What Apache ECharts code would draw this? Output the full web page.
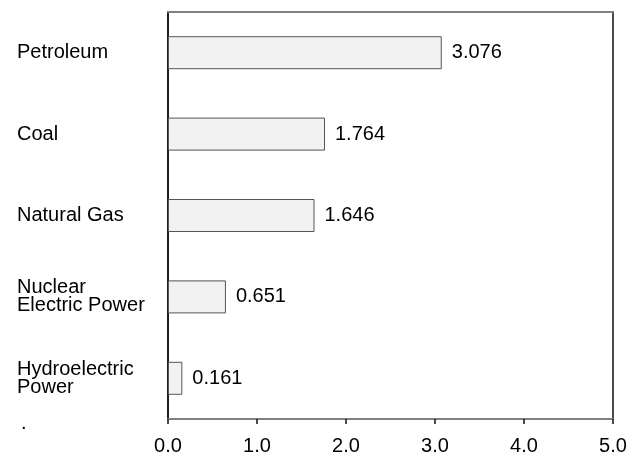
<!DOCTYPE html>
<html>
<head>
<meta charset="utf-8">
<script src="https://cdn.jsdelivr.net/npm/echarts@6/dist/echarts.min.js"></script>
<style>html,body{margin:0;padding:0;background:#fff;}#c{width:644px;height:458px;}</style>
</head>
<body>
<div id="c"></div>
<script>
var categories = ['Petroleum', 'Coal', 'Natural Gas', 'Nuclear\nElectric Power', 'Hydroelectric\nPower'];
var values = [3.076, 1.764, 1.646, 0.651, 0.161];
var xTicks = [0, 1, 2, 3, 4, 5];

var chart = echarts.init(document.getElementById('c'));
var font = 'Liberation Sans, Arial, Helvetica, sans-serif';
var fs = 20;
chart.setOption({
  animation: false,
  backgroundColor: '#fff',
  title: { text: '.', left: 16, top: 408, textStyle: { fontSize: fs, fontWeight: 'normal', color: '#000', fontFamily: font } },
  grid: { left: 168, right: 31, top: 12, bottom: 39, containLabel: false,
    show: true, borderColor: '#111', borderWidth: 1.5, backgroundColor: 'transparent' },
  xAxis: [{
    type: 'value', position: 'bottom', min: xTicks[0], max: xTicks[xTicks.length - 1], interval: 1,
    axisLine: { show: true, lineStyle: { color: '#808080', width: 2 } },
    axisTick: { show: true, length: 5, lineStyle: { color: '#111', width: 1.5 } },
    axisLabel: { margin: 17, fontSize: fs, color: '#000', fontFamily: font, formatter: function (v) { return v.toFixed(1); } },
    splitLine: { show: false }
  }, {
    type: 'value', position: 'top', min: xTicks[0], max: xTicks[xTicks.length - 1], interval: 1,
    axisLine: { show: true, lineStyle: { color: '#808080', width: 2 } },
    axisTick: { show: false }, axisLabel: { show: false }, splitLine: { show: false }
  }],
  yAxis: [{
    type: 'category', data: categories, inverse: true, position: 'left',
    axisLine: { show: true, lineStyle: { color: '#111', width: 1.5 } },
    axisTick: { show: false },
    axisLabel: { align: 'left', margin: 151, fontSize: fs, lineHeight: 18, color: '#000', fontFamily: font }
  }],
  series: [{
    type: 'bar', data: values, xAxisIndex: 0, yAxisIndex: 0, barWidth: 33,
    itemStyle: { color: '#f2f2f2', borderColor: '#555', borderWidth: 1 },
    label: { show: true, position: 'right', distance: 10, fontSize: fs, color: '#000', fontFamily: font,
      formatter: function (p) { return p.value.toFixed(3); } }
  }]
});
</script>
</body>
</html>
